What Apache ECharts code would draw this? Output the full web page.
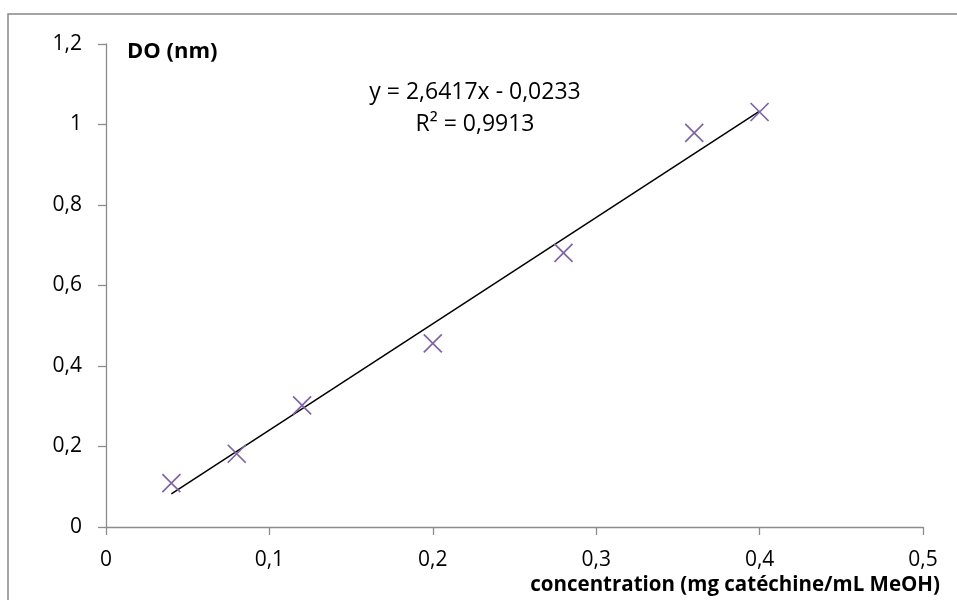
<!DOCTYPE html>
<html>
<head>
<meta charset="utf-8">
<script src="https://cdn.jsdelivr.net/npm/echarts@6/dist/echarts.min.js"></script>
<style>
  html, body { margin: 0; padding: 0; background: #fff; }
  #main { width: 957px; height: 600px; }
</style>
</head>
<body>
<div id="main"></div>
<script>
// concentrations (mg catéchine/mL MeOH)
var concentrations = [0.04, 0.08, 0.12, 0.2, 0.28, 0.36, 0.4];
// DO
var doValues = [0.109, 0.182, 0.302, 0.456, 0.681, 0.979, 1.031];
// extrémités de la courbe de tendance
var trendX = [0.04, 0.4];
var trendY = [0.082, 1.033];
var equationText = 'y = 2,6417x - 0,0233';
var r2Text = 'R² = 0,9913';

var font = '"Open Sans", sans-serif';
var axisGrey = '#8c8c8c';

var myChart = echarts.init(document.getElementById('main'));

function comma(v) {
    return String(v).replace('.', ',');
}

var option = {
    animation: false,
    grid: { left: 106, right: 34, top: 44, bottom: 73 },
    xAxis: {
        type: 'value',
        min: 0, max: 0.5, interval: 0.1,
        splitLine: { show: false },
        axisLine: { lineStyle: { color: axisGrey, width: 1.3 } },
        axisTick: { show: true, length: 8, lineStyle: { color: axisGrey, width: 1.3 } },
        axisLabel: { color: '#000', fontFamily: font, fontSize: 21, margin: 23, formatter: comma }
    },
    yAxis: {
        type: 'value',
        min: 0, max: 1.2, interval: 0.2,
        splitLine: { show: false },
        axisLine: { show: true, lineStyle: { color: axisGrey, width: 1.3 } },
        axisTick: { show: true, length: 8, lineStyle: { color: axisGrey, width: 1.3 } },
        axisLabel: { color: '#000', fontFamily: font, fontSize: 21, margin: 24, formatter: comma }
    },
    graphic: [
        {
            type: 'rect', silent: true,
            shape: { x: 8, y: 14, width: 980, height: 620 },
            style: { fill: 'none', stroke: '#878787', lineWidth: 1.5 }
        },
        {
            type: 'text', x: 127, y: 52,
            style: { text: 'DO (nm)', fontFamily: font, fontSize: 22, fontWeight: 'bold', fill: '#000', verticalAlign: 'middle' }
        },
        {
            type: 'text', x: 475, y: 92,
            style: { text: equationText, fontFamily: font, fontSize: 23, fill: '#000', align: 'center', verticalAlign: 'middle' }
        },
        {
            type: 'text', x: 475, y: 124,
            style: { text: r2Text, fontFamily: font, fontSize: 23, fill: '#000', align: 'center', verticalAlign: 'middle' }
        },
        {
            type: 'text', x: 940, y: 585,
            style: { text: 'concentration (mg catéchine/mL MeOH)', fontFamily: font, fontSize: 20.5, fontWeight: 'bold', fill: '#000', align: 'right', verticalAlign: 'middle' }
        }
    ],
    series: [
        {
            type: 'line',
            data: trendX.map(function (x, i) { return [x, trendY[i]]; }),
            showSymbol: false,
            symbol: 'none',
            lineStyle: { color: '#000', width: 1.5 },
            z: 2
        },
        {
            type: 'scatter',
            data: concentrations.map(function (x, i) { return [x, doValues[i]]; }),
            symbol: 'path://M0,0L10,10M10,0L0,10',
            symbolSize: 18,
            itemStyle: { color: 'none', borderColor: '#8064a2', borderWidth: 1.7, opacity: 1 },
            z: 3
        }
    ]
};

myChart.setOption(option);
</script>
</body>
</html>
